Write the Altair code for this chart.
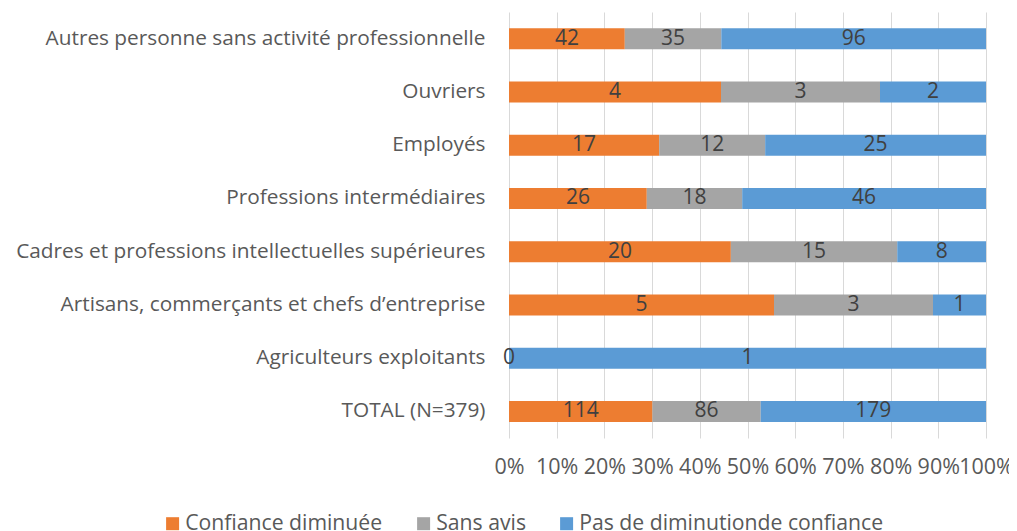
import altair as alt
import pandas as pd

categories = [
    "Autres personne sans activité professionnelle",
    "Ouvriers",
    "Employés",
    "Professions intermédiaires",
    "Cadres et professions intellectuelles supérieures",
    "Artisans, commerçants et chefs d’entreprise",
    "Agriculteurs exploitants",
    "TOTAL (N=379)",
]
series = ["Confiance diminuée", "Sans avis", "Pas de diminutionde confiance"]
confiance = [42, 4, 17, 26, 20, 5, 0, 114]
sans_avis = [35, 3, 12, 18, 15, 3, 0, 86]
pas_dim = [96, 2, 25, 46, 8, 1, 1, 179]
colors = ["#ED7D31", "#A5A5A5", "#5B9BD5"]

rows = []
for i, c in enumerate(categories):
    for j, (s, vals) in enumerate(zip(series, [confiance, sans_avis, pas_dim])):
        rows.append({"category": c, "series": s, "order": j, "value": vals[i]})
df = pd.DataFrame(rows)

FONT = "Open Sans"

base = alt.Chart(df).transform_stack(
    stack="value", as_=["v0", "v1"], groupby=["category"],
    sort=[alt.SortField("order")], offset="normalize"
).transform_calculate(mid="(datum.v0 + datum.v1) / 2")

yenc = alt.Y("category:N", sort=categories, title=None,
             scale=alt.Scale(paddingInner=0.6, paddingOuter=0.3),
             axis=alt.Axis(labelFont=FONT, labelFontSize=20.8, labelColor="#595959",
                           labelPadding=24, ticks=False, domain=False, labelLimit=600))

bars = base.mark_bar(size=21).encode(
    x=alt.X("v0:Q", title=None, scale=alt.Scale(domain=[0, 1]),
            axis=alt.Axis(format="%", values=[i / 10 for i in range(11)],
                          labelFont=FONT, labelFontSize=21.5, labelColor="#595959",
                          labelPadding=18, ticks=False, domain=False,
                          grid=True, gridColor="#D9D9D9", gridWidth=1,
                          labelOverlap=False, labelFlush=False, labelBound=False)),
    x2="v1:Q",
    y=yenc,
    color=alt.Color("series:N", sort=series,
                    scale=alt.Scale(domain=series, range=colors),
                    legend=alt.Legend(title=None, orient="none", direction="horizontal",
                                      legendX=-347, legendY=501,
                                      symbolType="square", symbolSize=169,
                                      symbolStrokeWidth=0,
                                      labelFont=FONT, labelFontSize=21.2,
                                      labelColor="#595959", labelOffset=2,
                                      columnPadding=30, labelLimit=400)),
)

labels = base.transform_filter(
    "datum.value > 0 || datum.order == 0"
).mark_text(font=FONT, fontSize=21, color="#404040").encode(
    x=alt.X("mid:Q"),
    y=alt.Y("category:N", sort=categories),
    text=alt.Text("value:Q"),
)

chart = (bars + labels).properties(
    width=477, height=426,
    autosize=alt.AutoSizeParams(type="none"),
    padding={"left": 501, "top": 4, "right": 23, "bottom": 100},
).configure_view(stroke=None)

chart.save("out.html", embed_options={"renderer": "svg", "actions": False})
